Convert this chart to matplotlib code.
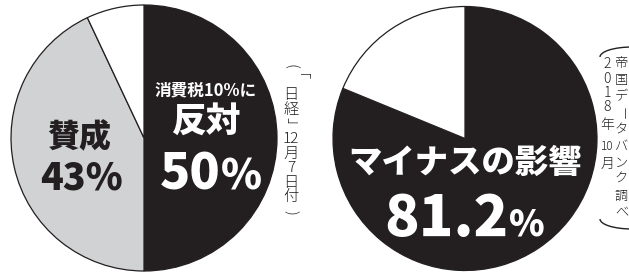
import matplotlib
matplotlib.use("Agg")
import matplotlib.pyplot as plt
from matplotlib.patches import Arc

plt.rcParams['font.family'] = ['Noto Sans CJK JP', 'DejaVu Sans']

W, H = 629, 272

# data
left_labels = ["反対", "賛成", "その他"]
left_values = [50, 43, 7]
right_labels = ["マイナスの影響", "その他"]
right_values = [81.2, 18.8]

BLACK = "#231f20"
GRAY = "#d1d2d4"
WHITE = "#ffffff"

fig = plt.figure(figsize=(W / 100, H / 100), dpi=100)
ax = fig.add_axes([0, 0, 1, 1])

def Y(y):
    return H - y

wp = dict(edgecolor=BLACK, linewidth=0.9)
ax.pie(left_values, colors=[BLACK, GRAY, WHITE], startangle=90, counterclock=False,
       center=(144, Y(138)), radius=133, wedgeprops=wp)
ax.pie(right_values, colors=[BLACK, WHITE], startangle=90, counterclock=False,
       center=(465, Y(138.5)), radius=132, wedgeprops=wp)

ax.set_xlim(0, W)
ax.set_ylim(0, H)
ax.set_aspect('auto')
ax.axis('off')

# left pie texts
ax.text(206, Y(90), "消費税10%に", color="white", fontsize=12, fontweight="bold",
        ha="center", va="center")
ax.text(206, Y(121), left_labels[0], color="white", fontsize=25, fontweight="heavy",
        ha="center", va="center")
ax.text(221, Y(190), f"{left_values[0]}", color="white", fontsize=36, fontweight="heavy",
        ha="right", va="baseline")
ax.text(221, Y(190), "%", color="white", fontsize=30, fontweight="heavy",
        ha="left", va="baseline")

ax.text(79, Y(138), left_labels[1], color=BLACK, fontsize=23, fontweight="heavy",
        ha="center", va="center")
ax.text(81, Y(190), f"{left_values[1]}%", color=BLACK, fontsize=27, fontweight="heavy",
        ha="center", va="baseline")

# right pie texts
ax.text(465, Y(162), right_labels[0], color="white", fontsize=24, fontweight="heavy",
        ha="center", va="center")
ax.text(508, Y(236), f"{right_values[0]}", color="white", fontsize=41, fontweight="heavy",
        ha="right", va="baseline")
ax.text(509, Y(236), "%", color="white", fontsize=26, fontweight="heavy",
        ha="left", va="baseline")

# vertical source note, left
left_src = [("(", -90), ("「", -90), ("日", 0), ("経", 0), ("」", -90), ("12", 0),
            ("月", 0), ("7", 0), ("日", 0), ("付", 0), (")", -90)]
y = 66
for tok, rot in left_src:
    ax.text(291, Y(y), tok, color=BLACK, fontsize=11, ha="center", va="center",
            rotation=rot, fontweight="light")
    y += 14.6

# vertical source note, right
col1 = ["2", "0", "1", "8", "年", "10", "月"]
ys1 = [64, 79, 93, 107, 125, 146, 164]
for tok, yy in zip(col1, ys1):
    fs = 8.5 if len(tok) > 1 else 10
    ax.text(607.5, Y(yy), tok, color=BLACK, fontsize=fs, ha="center", va="center",
            fontweight="light")

col2 = "帝国データバンク調べ"
for i, ch in enumerate(col2):
    rot = -90 if ch == "ー" else 0
    ax.text(621.5, Y(64 + i * 16.5), ch, color=BLACK, fontsize=9.5, ha="center",
            va="center", rotation=rot, fontweight="light")

ax.add_patch(Arc((632, Y(57)), 64, 20, theta1=0, theta2=180, color=BLACK, lw=1.0))
ax.add_patch(Arc((632, Y(219)), 64, 20, theta1=180, theta2=360, color=BLACK, lw=1.0))

fig.savefig("out.png", dpi=100)
